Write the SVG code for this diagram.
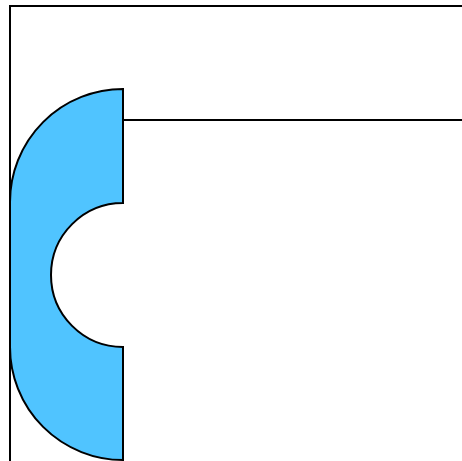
<svg xmlns="http://www.w3.org/2000/svg" width="462" height="461" viewBox="0 0 462 461">
<style>
.ln{fill:none;stroke:#000;stroke-width:2}
.shape{fill:#50C4FF;stroke:#000;stroke-width:2;stroke-linejoin:miter}
</style>
<rect width="462" height="461" fill="#fff"/>
<g id="frame">
<path class="ln" d="M10,470 V6 H470"/>
</g>
<g id="connectors">
<path class="ln" d="M123,120 H470"/>
</g>
<g id="arch">
<path class="shape" d="M123,89 A113,113 0 0 0 10,202 V347 A113,113 0 0 0 123,460 V347 A72,72 0 0 1 123,203 Z"/>
</g>
</svg>
